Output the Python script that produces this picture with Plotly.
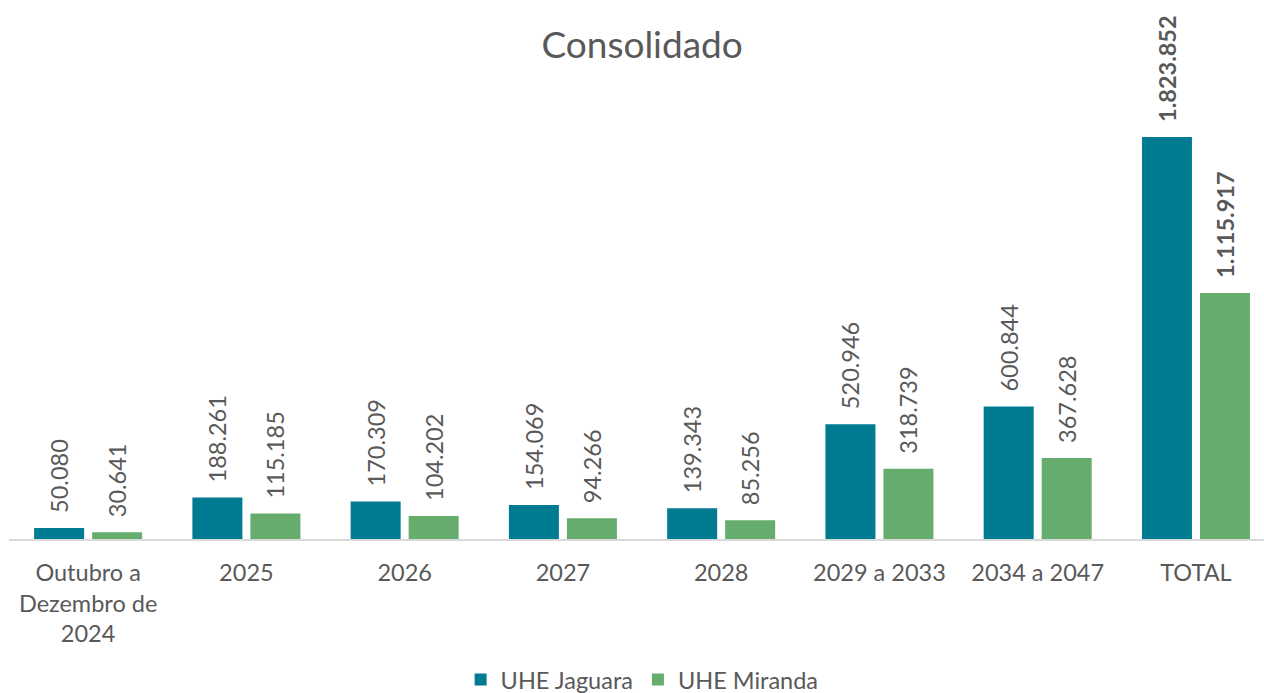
import plotly.graph_objects as go

categories = ["Outubro a<br>Dezembro de<br>2024", "2025", "2026", "2027", "2028",
              "2029 a 2033", "2034 a 2047", "TOTAL"]
jaguara = [50080, 188261, 170309, 154069, 139343, 520946, 600844, 1823852]
miranda = [30641, 115185, 104202, 94266, 85256, 318739, 367628, 1115917]

def fmt(v):
    return f"{v:,}".replace(",", ".")

PAD = "\u00a0\u00a0"

def labels(vals):
    out = [PAD + fmt(v) for v in vals]
    out[-1] = PAD + "<b>" + fmt(vals[-1]) + "</b>"
    return out

GRAY = "#595959"
FS = 23.5
fig = go.Figure()
for name, vals, col in [("UHE Jaguara", jaguara, "#007b91"), ("UHE Miranda", miranda, "#66ac6c")]:
    fig.add_trace(go.Bar(name=name, x=categories, y=vals, text=labels(vals),
                         marker=dict(color=col, line=dict(width=0)),
                         textposition="outside", textangle=-90, cliponaxis=False,
                         constraintext="none",
                         textfont=dict(size=FS, color=GRAY)))

fig.update_layout(
    width=1264, height=693,
    margin=dict(l=9, r=0, t=10, b=154, autoexpand=False),
    paper_bgcolor="white", plot_bgcolor="white",
    font=dict(family="Lato", color=GRAY, size=FS),
    title=dict(text="Consolidado", xref="container", x=0.508, xanchor="center",
               yref="container", y=0.935, yanchor="middle",
               font=dict(size=37, color=GRAY, family="Lato")),
    barmode="group", bargap=0.267, bargroupgap=0.138,
    xaxis=dict(range=[-0.5, 7.43], showline=True, linecolor="#d9d9d9", linewidth=1.5,
               ticks="outside", ticklen=12, tickcolor="rgba(0,0,0,0)", automargin=False,
               tickfont=dict(size=FS, color=GRAY), showgrid=False, fixedrange=True),
    yaxis=dict(range=[0, 2400000], visible=False, showgrid=False, automargin=False,
               fixedrange=True),
    legend=dict(orientation="h", xref="container", x=0.508, xanchor="center",
                y=-0.266, yanchor="middle",
                font=dict(size=FS, color=GRAY), traceorder="normal"),
    showlegend=True,
)
fig.write_html("out.html", config={"displayModeBar": False},
               post_script="document.body.style.margin='0';")
